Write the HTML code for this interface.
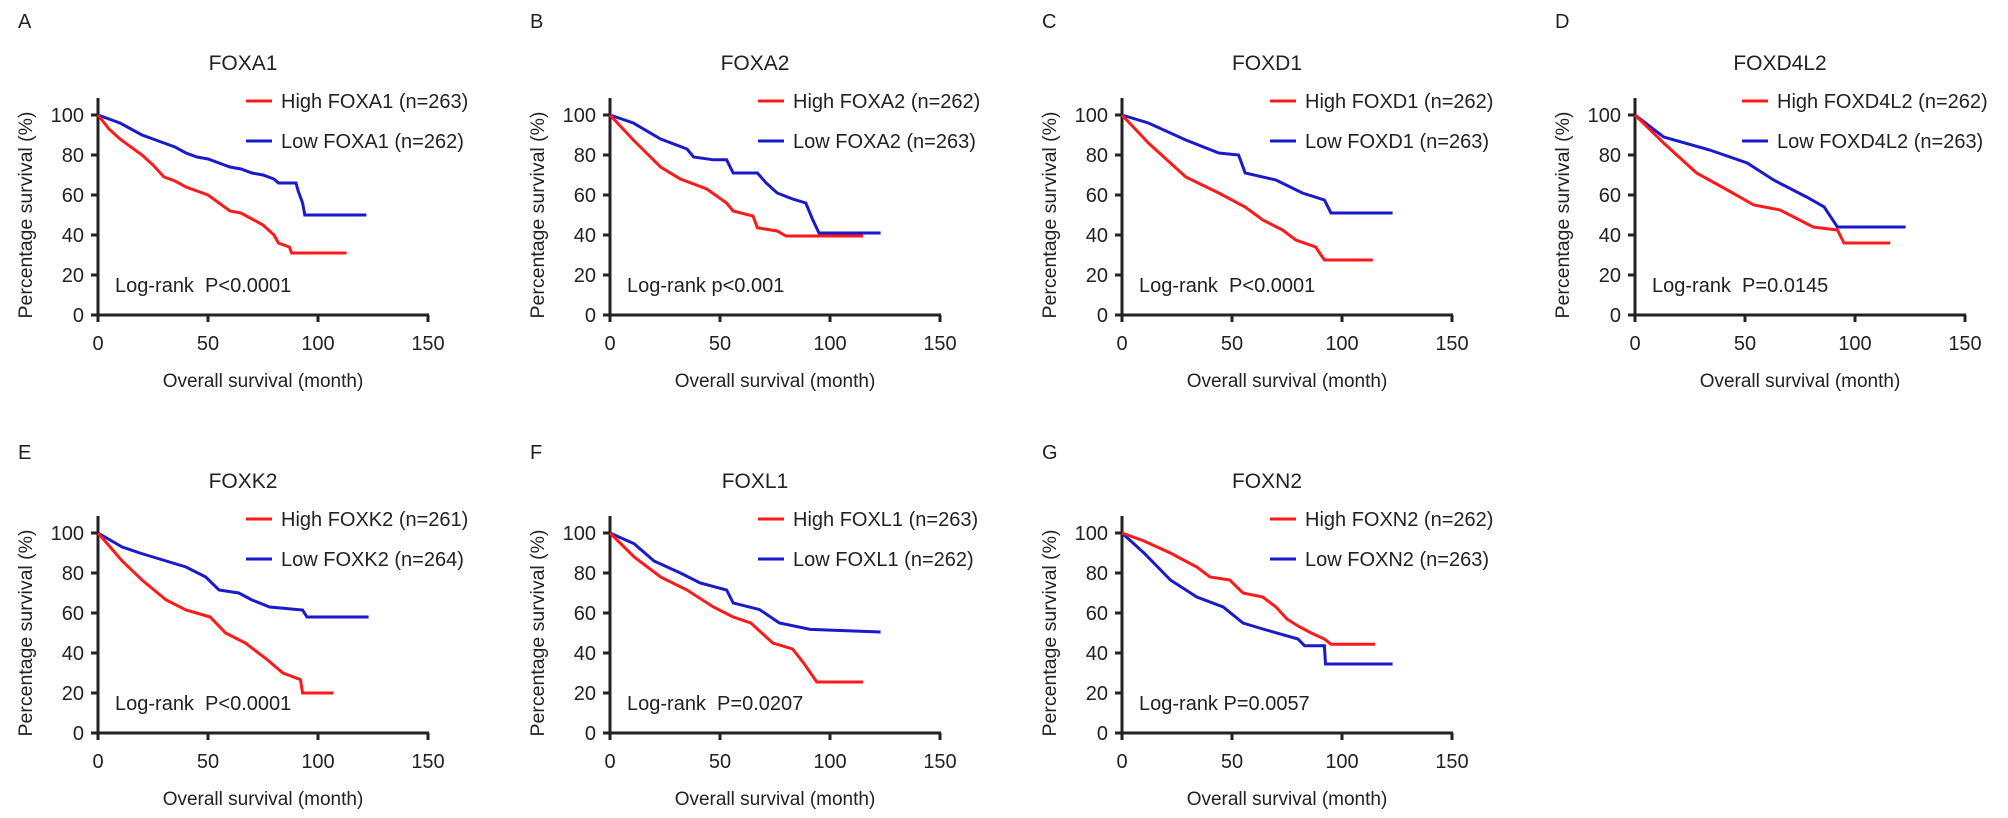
<!DOCTYPE html>
<html><head><meta charset="utf-8"><style>
body{margin:0;background:#fff;}
svg{display:block;font-family:"Liberation Sans",Arial,sans-serif;}
</style></head><body>
<svg id="fig" width="2008" height="818" viewBox="0 0 2008 818" xmlns="http://www.w3.org/2000/svg"></svg>
<script>
const panelLetters = ["A","B","C","D","E","F","G"];
const genes = ["FOXA1","FOXA2","FOXD1","FOXD4L2","FOXK2","FOXL1","FOXN2"];
const highN = [263,262,262,262,261,263,262];
const lowN = [262,263,263,263,264,262,263];
const pvalues = ["Log-rank  P<0.0001","Log-rank p<0.001","Log-rank  P<0.0001","Log-rank  P=0.0145","Log-rank  P<0.0001","Log-rank  P=0.0207","Log-rank P=0.0057"];
const xTicks = [0,50,100,150];
const yTicks = [0,20,40,60,80,100];

const highT = [
 [0,5,10,15,20,25,30,35,40,45,50,55,60,65,70,75,80,82,87,88,113],
 [0,10.6,23,32,44,53,56,65,67,76,80,115],
 [0,12,29,44,56,64,73,79,88,92,114],
 [0,13,28,42,54,66,81,92,95,116],
 [0,11,20,31,40,51,58,67,77,84,92,93,107],
 [0,11,23,35,47,56,64,67,74,83,88,94,115],
 [0,10,22,34,40,49,55,64,70,75,80,86,92,95,115]
];
const highS = [
 [100,93,88,84,80,75,69,67,64,62,60,56,52,51,48,45,40,36,34,31,31],
 [100,87.5,74,68,63,56,52,49.5,43.6,42,39.5,39.5],
 [100,86,69,61,54,47.5,42.5,37.5,34,27.5,27.5],
 [100,86,71,62.5,55,52.5,44,42.5,36,36],
 [100,86,76.5,66.5,61.5,58,50,45,36.6,30,26.7,20,20],
 [100,88,78,71.5,63,58,55,52,45,42,35,25.5,25.5],
 [100,96,90,83,78,76.5,70,68,63,57,53.5,50,47,44.4,44.4]
];
const lowT = [
 [0,5,10,15,20,25,30,35,40,45,50,55,60,65,70,75,80,82,90,91,93,94,122],
 [0,10.6,23,35,38,47,53,56,67,71,76,83,89,92,95,123],
 [0,12,29,44,53,56,70,82,92,95,123],
 [0,13,34,51,63,78,86,92,123],
 [0,11,19,31,40,49,55,64,70,78,93,95,123],
 [0,11,20,32,41,53,56,68,77,91,123],
 [0,10,22,34,46,55,64,80,83,92,92.5,123]
];
const lowS = [
 [100,98,96,93,90,88,86,84,81,79,78,76,74,73,71,70,68,66,66,62,56,50,50],
 [100,96,88,83,79,77.6,77.6,71,71,66,61,58,56,48,41,41],
 [100,96,87.5,81,80,71,67.5,61,57.5,51,51],
 [100,89,82.5,76,67.5,59,54,44,44],
 [100,93,90,86,83,78,71.5,70,66.5,63,61.5,58,58],
 [100,94.6,86,80,75,71.5,65,61.7,55,51.8,50.5],
 [100,90,76.5,68,63,55,52,47,43.6,43.6,34.5,34.5]
];

const originsX = [98,610,1122,1635,98,610,1122];
const originsY = [315,315,315,315,733,733,733];
const legendDX = [148,148,148,107,148,148,148];
const XS = 2.2, YS = 2.0;
const svg = document.getElementById('fig');
const NS = "http://www.w3.org/2000/svg";
function mk(tag, attrs, text){
  const e = document.createElementNS(NS, tag);
  for (const k in attrs) e.setAttribute(k, attrs[k]);
  if (text !== undefined) e.textContent = text;
  return e;
}
for (let p = 0; p < 7; p++) {
  const ox = originsX[p], oy = originsY[p];
  const sx = v => ox + v * XS;
  const sy = v => oy - v * YS;
  const g = mk('g', {});
  
  
  svg.appendChild(g);

  const letter = mk('text', {x: ox - 80, y: oy - (p < 4 ? 287 : 274), 'font-size': 20, fill: '#222'}, panelLetters[p]);
  
  
  g.appendChild(letter);

  const title = mk('text', {x: ox + 145, y: oy - 245, 'font-size': 21, 'text-anchor': 'middle', fill: '#222'}, genes[p]);
  
  
  g.appendChild(title);

  const yax = mk('line', {x1: ox, y1: oy + 1, x2: ox, y2: oy - 217, stroke: '#222', 'stroke-width': 3});
  
  
  g.appendChild(yax);
  const xax = mk('line', {x1: ox - 7, y1: oy, x2: sx(150) + 1, y2: oy, stroke: '#222', 'stroke-width': 3});
  
  
  g.appendChild(xax);

  yTicks.forEach(v => {
    const t = mk('line', {x1: ox - 7, y1: sy(v), x2: ox, y2: sy(v), stroke: '#222', 'stroke-width': 3});
    
    
    g.appendChild(t);
    const l = mk('text', {x: ox - 14, y: sy(v) + 7, 'font-size': 20, 'text-anchor': 'end', fill: '#222'}, String(v));
    
    
    g.appendChild(l);
  });
  xTicks.forEach(v => {
    const t = mk('line', {x1: sx(v), y1: oy, x2: sx(v), y2: oy + 7, stroke: '#222', 'stroke-width': 3});
    
    
    g.appendChild(t);
    const l = mk('text', {x: sx(v), y: oy + 35, 'font-size': 20, 'text-anchor': 'middle', fill: '#222'}, String(v));
    
    
    g.appendChild(l);
  });

  const xt = mk('text', {x: ox + 165, y: oy + 72, 'font-size': 19, 'text-anchor': 'middle', fill: '#222'}, 'Overall survival (month)');
  
  
  g.appendChild(xt);
  const yt = mk('text', {x: 0, y: 0, 'font-size': 19.5, 'text-anchor': 'middle', fill: '#222', transform: `translate(${ox - 66},${oy - 100}) rotate(-90)`}, 'Percentage survival (%)');
  
  
  g.appendChild(yt);

  const pv = mk('text', {x: ox + 17, y: oy - 23, 'font-size': 20, fill: '#222', style: 'white-space:pre'}, pvalues[p]);
  
  
  g.appendChild(pv);

  function curve(T, S, color, name) {
    let d = '';
    for (let i = 0; i < T.length; i++) {
      d += (i ? 'L' : 'M') + sx(T[i]).toFixed(1) + ',' + sy(S[i]).toFixed(1);
    }
    const path = mk('path', {d: d, fill: 'none', stroke: color, 'stroke-width': 3, 'stroke-linejoin': 'miter'});
    
    
    g.appendChild(path);
  }
  curve(lowT[p], lowS[p], '#1a1acc', 'low-expression-curve');
  curve(highT[p], highS[p], '#ff1a1a', 'high-expression-curve');

  const lx = ox + legendDX[p];
  const lg1 = mk('line', {x1: lx, y1: oy - 214, x2: lx + 26, y2: oy - 214, stroke: '#ff1a1a', 'stroke-width': 3});
  
  
  g.appendChild(lg1);
  const lt1 = mk('text', {x: lx + 35, y: oy - 207, 'font-size': 20, fill: '#222'}, `High ${genes[p]} (n=${highN[p]})`);
  
  
  g.appendChild(lt1);
  const lg2 = mk('line', {x1: lx, y1: oy - 174, x2: lx + 26, y2: oy - 174, stroke: '#1a1acc', 'stroke-width': 3});
  
  
  g.appendChild(lg2);
  const lt2 = mk('text', {x: lx + 35, y: oy - 167, 'font-size': 20, fill: '#222'}, `Low ${genes[p]} (n=${lowN[p]})`);
  
  
  g.appendChild(lt2);
}
</script>
</body></html>
